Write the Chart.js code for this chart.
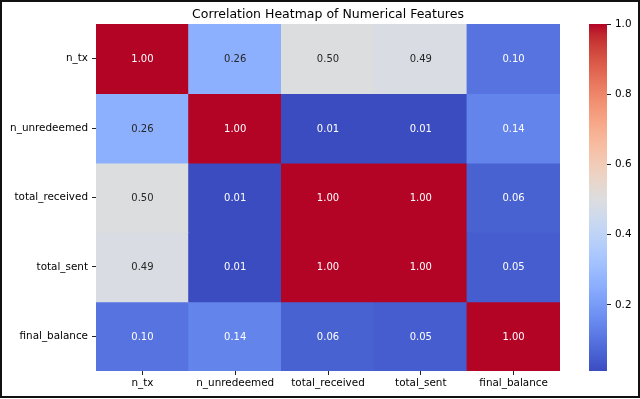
<!DOCTYPE html>
<html>
<head>
<meta charset="utf-8">
<script src="https://cdn.jsdelivr.net/npm/chart.js@4.4.1/dist/chart.umd.min.js"></script>
<style>
  html, body { margin: 0; padding: 0; background: #fff; }
  #wrap { position: relative; width: 640px; height: 399px; overflow: hidden; }
  #heat { position: absolute; left: 0; top: 0; }
  #cbar { position: absolute; left: 575px; top: 0; }
  #frame { position: absolute; left: 0; top: 0; width: 640px; height: 398px;
           box-sizing: border-box; border: 2px solid #111; pointer-events: none; }
</style>
</head>
<body>
<div id="wrap">
  <canvas id="heat" width="575" height="399"></canvas>
  <canvas id="cbar" width="65" height="399"></canvas>
  <div id="frame"></div>
</div>
<script>
// --- data ---
const features = ['n_tx', 'n_unredeemed', 'total_received', 'total_sent', 'final_balance'];
const row_n_tx           = [1.00, 0.26, 0.50, 0.49, 0.10];
const row_n_unredeemed   = [0.26, 1.00, 0.01, 0.01, 0.14];
const row_total_received = [0.50, 0.01, 1.00, 1.00, 0.06];
const row_total_sent     = [0.49, 0.01, 1.00, 1.00, 0.05];
const row_final_balance  = [0.10, 0.14, 0.06, 0.05, 1.00];
const matrix = [row_n_tx, row_n_unredeemed, row_total_received, row_total_sent, row_final_balance];
const cbarTicks = [0.2, 0.4, 0.6, 0.8, 1.0];
const CB_MIN = 0.012, CB_MAX = 1.0;

// matplotlib coolwarm, 33 samples
const coolwarm = [
  [59,76,192],[68,90,204],[77,104,215],[87,117,225],[98,130,234],[108,142,241],
  [119,154,247],[130,165,251],[141,176,254],[152,185,255],[163,194,255],[174,201,253],
  [184,208,249],[194,213,244],[204,217,238],[213,219,230],[221,221,221],[229,216,209],
  [236,211,197],[241,204,184],[245,196,172],[247,187,159],[247,177,147],[247,166,134],
  [244,154,123],[241,141,111],[236,127,99],[229,112,89],[222,96,77],[213,80,66],
  [203,62,56],[192,40,47],[180,4,38]
];

function cmap(t) {
  t = Math.max(0, Math.min(1, t));
  const p = t * (coolwarm.length - 1);
  const i = Math.min(Math.floor(p), coolwarm.length - 2);
  const f = p - i;
  const a = coolwarm[i], b = coolwarm[i + 1];
  return [0, 1, 2].map(k => Math.round(a[k] + (b[k] - a[k]) * f));
}
function rgb(c) { return `rgb(${c[0]},${c[1]},${c[2]})`; }
function colorFor(v) { return cmap((v - CB_MIN) / (CB_MAX - CB_MIN)); }
function luminance(c) {
  const lin = c.map(x => { x /= 255; return x <= 0.03928 ? x / 12.92 : Math.pow((x + 0.055) / 1.055, 2.4); });
  return 0.2126 * lin[0] + 0.7152 * lin[1] + 0.0722 * lin[2];
}

const FONT = 'DejaVu Sans';
const TICK_SIZE = 10.4;
Chart.defaults.font.family = FONT;
Chart.defaults.color = '#000';

// one floating-bar dataset per row, each cell spans [row, row+1]
const datasets = matrix.map((row, i) => ({
  label: features[i],
  data: row.map(() => [i, i + 1]),
  backgroundColor: row.map(v => rgb(colorFor(v))),
  borderWidth: 0,
  inflateAmount: 0.6,
  barPercentage: 1,
  categoryPercentage: 1,
  grouped: false
}));

// draw the numbers in each cell
const annotate = {
  id: 'annotate',
  afterDatasetsDraw(chart) {
    const ctx = chart.ctx;
    ctx.save();
    ctx.font = `10px "${FONT}"`;
    ctx.textAlign = 'center';
    ctx.textBaseline = 'middle';
    chart.data.datasets.forEach((ds, i) => {
      chart.getDatasetMeta(i).data.forEach((bar, j) => {
        const v = matrix[i][j];
        ctx.fillStyle = luminance(colorFor(v)) > 0.408 ? '#262626' : '#fff';
        ctx.fillText(v.toFixed(2), bar.x, (bar.y + bar.base) / 2 + 1);
      });
    });
    ctx.restore();
  }
};

new Chart(document.getElementById('heat'), {
  type: 'bar',
  data: { labels: features, datasets: datasets },
  plugins: [annotate],
  options: {
    responsive: false,
    animation: false,
    layout: { padding: { left: 0, right: 15, top: 0, bottom: 0 } },
    plugins: {
      legend: { display: false },
      tooltip: { enabled: false },
      title: {
        display: true,
        text: 'Correlation Heatmap of Numerical Features',
        fullSize: false,
        color: '#000',
        font: { size: 12.5, weight: 'normal' },
        padding: { top: 7, bottom: 2 }
      }
    },
    scales: {
      x: {
        grid: { offset: false, drawOnChartArea: false, drawTicks: true, tickLength: 4, color: '#222' },
        border: { display: false },
        ticks: { font: { size: TICK_SIZE }, color: '#000', padding: 2, maxRotation: 0 },
        afterFit(scale) { scale.height = 28; }
      },
      y: {
        type: 'linear',
        min: 0,
        max: 5,
        reverse: true,
        grid: { drawOnChartArea: false, drawTicks: true, tickLength: 4, color: '#222' },
        border: { display: false },
        afterBuildTicks(scale) { scale.ticks = features.map((_, i) => ({ value: i + 0.5 })); },
        ticks: {
          font: { size: TICK_SIZE },
          color: '#000',
          padding: 4,
          callback: (v) => features[Math.floor(v)]
        },
        afterFit(scale) { scale.width = 96; }
      }
    }
  }
});

// colorbar
new Chart(document.getElementById('cbar'), {
  type: 'bar',
  data: {
    labels: [''],
    datasets: [{
      data: [[CB_MIN, CB_MAX]],
      borderWidth: 0,
      barPercentage: 1,
      categoryPercentage: 1,
      backgroundColor(context) {
        const area = context.chart.chartArea;
        if (!area) return 'rgba(0,0,0,0)';
        const g = context.chart.ctx.createLinearGradient(0, area.bottom, 0, area.top);
        coolwarm.forEach((c, k) => g.addColorStop(k / (coolwarm.length - 1), rgb(c)));
        return g;
      }
    }]
  },
  options: {
    responsive: false,
    animation: false,
    layout: { padding: { left: 14, right: 0, top: 24, bottom: 28 } },
    plugins: { legend: { display: false }, tooltip: { enabled: false } },
    scales: {
      x: { display: false },
      y: {
        position: 'right',
        min: CB_MIN,
        max: CB_MAX,
        grid: { drawOnChartArea: false, drawTicks: true, tickLength: 4, color: '#222' },
        border: { display: false },
        afterBuildTicks(scale) { scale.ticks = cbarTicks.map(v => ({ value: v })); },
        ticks: { font: { size: TICK_SIZE }, color: '#000', padding: 4, callback: (v) => v.toFixed(1) },
        afterFit(scale) { scale.width = 33; }
      }
    }
  }
});
</script>
</body>
</html>
